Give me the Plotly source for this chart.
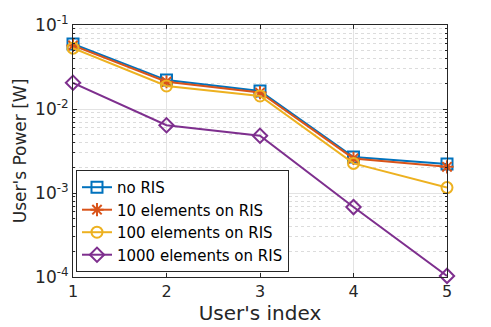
import plotly.graph_objects as go

users = [1, 2, 3, 4, 5]
no_ris = [0.0594, 0.0221, 0.0164, 0.00268, 0.00222]
ris_10 = [0.0570, 0.0211, 0.0157, 0.00258, 0.00205]
ris_100 = [0.0530, 0.0188, 0.0143, 0.00225, 0.00116]
ris_1000 = [0.0205, 0.0064, 0.0048, 0.00068, 0.000103]

tick_vals = [1e-4, 1e-3, 1e-2, 1e-1]
tick_text = ["10<sup>-4</sup>", "10<sup>-3</sup>", "10<sup>-2</sup>", "10<sup>-1</sup>"]
minor_vals = [m * d for d in (1e-4, 1e-3, 1e-2) for m in range(2, 10)]

series = [
    ("no RIS", no_ris, "#0072BD", "square-open"),
    ("10 elements on RIS", ris_10, "#D95319", "asterisk-open"),
    ("100 elements on RIS", ris_100, "#EDB120", "circle-open"),
    ("1000 elements on RIS", ris_1000, "#7E2F8E", "diamond-open"),
]

fig = go.Figure()

for name, vals, color, symbol in series:
    fig.add_trace(
        go.Scatter(
            x=users,
            y=vals,
            mode="lines+markers",
            name=name,
            line={"color": color, "width": 2},
            marker={"symbol": symbol, "size": 11, "color": color, "line": {"color": color, "width": 2}},
            cliponaxis=False,
        )
    )

fig.update_layout(
    width=491,
    height=327,
    margin={"l": 73, "r": 44, "t": 25, "b": 50},
    paper_bgcolor="white",
    plot_bgcolor="white",
    font={"family": "DejaVu Sans, sans-serif", "size": 15, "color": "#262626"},
    showlegend=True,
    legend={
        "x": 0.008,
        "y": 0.02,
        "xanchor": "left",
        "yanchor": "bottom",
        "bgcolor": "white",
        "bordercolor": "#262626",
        "borderwidth": 1,
        "font": {"size": 15, "color": "black"},
        "tracegroupgap": 0,
        "itemwidth": 30,
    },
)

fig.update_xaxes(
    range=[1, 5],
    tickvals=users,
    tickfont={"size": 16},
    title={"text": "User's index", "font": {"size": 20}, "standoff": 4},
    automargin=False,
    showline=True,
    linecolor="#262626",
    linewidth=1,
    mirror="ticks",
    ticks="inside",
    ticklen=4,
    tickcolor="#262626",
    showgrid=True,
    gridcolor="#e3e3e3",
    zeroline=False,
)

fig.update_yaxes(
    type="log",
    range=[-4, -1],
    tickvals=tick_vals,
    ticktext=tick_text,
    tickfont={"size": 17},
    title={"text": "User's Power [W]", "font": {"size": 17}, "standoff": 4},
    automargin=False,
    showline=True,
    linecolor="#262626",
    linewidth=1,
    mirror="ticks",
    ticks="inside",
    ticklen=4,
    tickcolor="#262626",
    showgrid=True,
    gridcolor="#e3e3e3",
    minor={
        "tickvals": minor_vals,
        "ticks": "inside",
        "ticklen": 2,
        "tickcolor": "#262626",
        "showgrid": True,
        "gridcolor": "#dcdcdc",
        "griddash": "dot",
        "gridwidth": 1,
    },
    zeroline=False,
)

# 브라우저 기본 body 여백 제거, 툴바 숨김
fig.write_html(
    "out.html",
    config={"displayModeBar": False},
    post_script="document.body.style.margin='0';",
)
